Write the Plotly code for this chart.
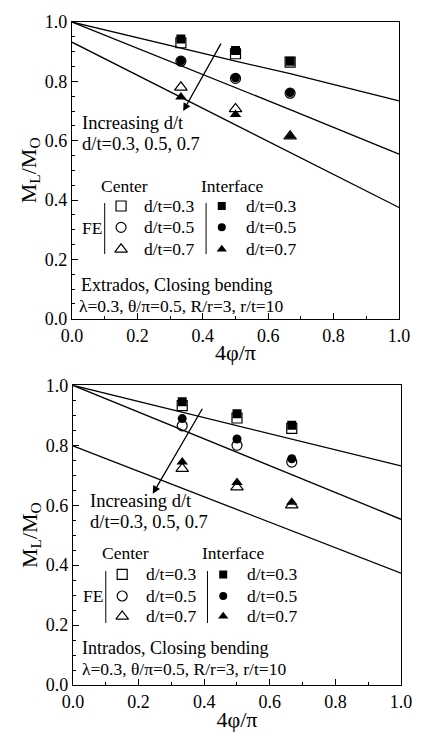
import plotly.graph_objects as go

# ---- data -------------------------------------------------------------
phi = [0.333, 0.5, 0.667]            # 4*phi/pi for the FE cases
theory_x = [0.0, 0.333, 0.5, 0.667, 1.0]

# Extrados, closing bending
ext_theory_03 = [1.0, 0.911, 0.868, 0.826, 0.734]
ext_theory_05 = [1.0, 0.853, 0.778, 0.705, 0.555]
ext_theory_07 = [0.932, 0.746, 0.654, 0.560, 0.375]
ext_center_03 = [0.930, 0.893, 0.865]
ext_iface_03 = [0.943, 0.904, 0.868]
ext_center_05 = [0.868, 0.810, 0.760]
ext_iface_05 = [0.869, 0.812, 0.762]
ext_center_07 = [0.780, 0.707, 0.615]
ext_iface_07 = [0.747, 0.688, 0.615]

# Intrados, closing bending
int_theory_03 = [1.0, 0.910, 0.866, 0.822, 0.731]
int_theory_05 = [1.0, 0.852, 0.776, 0.702, 0.553]
int_theory_07 = [0.798, 0.656, 0.585, 0.514, 0.373]
int_center_03 = [0.932, 0.891, 0.856]
int_iface_03 = [0.945, 0.905, 0.867]
int_center_05 = [0.865, 0.800, 0.744]
int_iface_05 = [0.889, 0.821, 0.755]
int_center_07 = [0.722, 0.660, 0.600]
int_iface_07 = [0.744, 0.676, 0.610]

dt_labels = ["d/t=0.3", "d/t=0.5", "d/t=0.7"]
xticks = [0.0, 0.2, 0.4, 0.6, 0.8, 1.0]
yticks = [0.0, 0.2, 0.4, 0.6, 0.8, 1.0]

FONT = "Liberation Serif"
BLACK = "black"
TXT = dict(family=FONT, size=18.5, color=BLACK)
LEG = dict(family=FONT, size=17.5, color=BLACK)

fig = go.Figure()

open_syms = ["square-open", "circle-open", "triangle-up-open"]
fill_syms = ["square", "circle", "triangle-up"]
sym_sizes = [10, 10, 11]

panels = [
    dict(xa="x", ya="y",
         theory=[ext_theory_03, ext_theory_05, ext_theory_07],
         center=[ext_center_03, ext_center_05, ext_center_07],
         iface=[ext_iface_03, ext_iface_05, ext_iface_07],
         case="Extrados, Closing bending",
         arrow=(0.458, 0.932, 0.34, 0.70),
         inc=(0.025, 0.66, 0.59),
         leg=dict(head=0.448, rows=[0.38, 0.308, 0.234], bar=(0.39, 0.218), fe=0.305),
         case_pos=(0.02, 0.115, 0.016, 0.044)),
    dict(xa="x2", ya="y2",
         theory=[int_theory_03, int_theory_05, int_theory_07],
         center=[int_center_03, int_center_05, int_center_07],
         iface=[int_iface_03, int_iface_05, int_iface_07],
         case="Intrados, Closing bending",
         arrow=(0.397, 0.927, 0.243, 0.638),
         inc=(0.047, 0.614, 0.543),
         leg=dict(head=0.44, rows=[0.369, 0.297, 0.229], bar=(0.38, 0.207), fe=0.297),
         case_pos=(0.022, 0.122, 0.02, 0.052)),
]

annotations = []
shapes = []

for p in panels:
    xa, ya = p["xa"], p["ya"]
    for ys in p["theory"]:
        fig.add_trace(go.Scatter(x=theory_x, y=ys, mode="lines", xaxis=xa, yaxis=ya,
                                 line=dict(color=BLACK, width=1.3), showlegend=False))
    for ys, s, sz in zip(p["center"], open_syms, sym_sizes):
        fig.add_trace(go.Scatter(x=phi, y=ys, mode="markers", xaxis=xa, yaxis=ya,
                                 marker=dict(symbol=s, size=sz, color=BLACK,
                                             line=dict(width=1.2, color=BLACK)),
                                 showlegend=False))
    for ys, s, sz in zip(p["iface"], fill_syms, sym_sizes):
        fig.add_trace(go.Scatter(x=phi, y=ys, mode="markers", xaxis=xa, yaxis=ya,
                                 marker=dict(symbol=s, size=sz - 1, color=BLACK),
                                 showlegend=False))

    # legend keys drawn inside the axes
    lg = p["leg"]
    for row_y, so, sf, sz in zip(lg["rows"], open_syms, fill_syms, sym_sizes):
        fig.add_trace(go.Scatter(x=[0.15], y=[row_y], mode="markers", xaxis=xa, yaxis=ya,
                                 marker=dict(symbol=so, size=sz, color=BLACK,
                                             line=dict(width=1.2, color=BLACK)),
                                 showlegend=False, hoverinfo="skip"))
        fig.add_trace(go.Scatter(x=[0.458], y=[row_y], mode="markers", xaxis=xa, yaxis=ya,
                                 marker=dict(symbol=sf, size=sz - 2, color=BLACK),
                                 showlegend=False, hoverinfo="skip"))
    for lab, row_y in zip(dt_labels, lg["rows"]):
        annotations.append(dict(x=0.215, y=row_y, xref=xa, yref=ya, text=lab, showarrow=False,
                                xanchor="left", yanchor="middle", font=LEG))
        annotations.append(dict(x=0.525, y=row_y, xref=xa, yref=ya, text=lab, showarrow=False,
                                xanchor="left", yanchor="middle", font=LEG))
    annotations.append(dict(x=0.16, y=lg["head"], xref=xa, yref=ya, text="Center", showarrow=False,
                            xanchor="center", yanchor="middle", font=LEG))
    annotations.append(dict(x=0.488, y=lg["head"], xref=xa, yref=ya, text="Interface", showarrow=False,
                            xanchor="center", yanchor="middle", font=LEG))
    annotations.append(dict(x=0.025, y=lg["fe"], xref=xa, yref=ya, text="FE", showarrow=False,
                            xanchor="left", yanchor="middle", font=LEG))
    for bx in (0.1, 0.41):
        shapes.append(dict(type="line", xref=xa, yref=ya, x0=bx, x1=bx,
                           y0=lg["bar"][0], y1=lg["bar"][1], line=dict(color=BLACK, width=1)))

    # trend arrow
    x0, y0, x1, y1 = p["arrow"]
    annotations.append(dict(x=x1, y=y1, ax=x0, ay=y0, xref=xa, yref=ya, axref=xa, ayref=ya,
                            text="", showarrow=True, arrowhead=2, arrowsize=1.2, arrowwidth=1.3,
                            arrowcolor=BLACK))
    ix, iy1, iy2 = p["inc"]
    annotations.append(dict(x=ix, y=iy1, xref=xa, yref=ya, text="Increasing d/t", showarrow=False,
                            xanchor="left", yanchor="middle", font=TXT))
    annotations.append(dict(x=ix, y=iy2, xref=xa, yref=ya, text="d/t=0.3, 0.5, 0.7", showarrow=False,
                            xanchor="left", yanchor="middle", font=TXT))

    cx1, cy1, cx2, cy2 = p["case_pos"]
    annotations.append(dict(x=cx1, y=cy1, xref=xa, yref=ya, text=p["case"], showarrow=False,
                            xanchor="left", yanchor="middle", font=dict(TXT, size=18)))
    annotations.append(dict(x=cx2, y=cy2, xref=xa, yref=ya,
                            text="λ=0.3, θ/π=0.5, R/r=3, r/t=10", showarrow=False,
                            xanchor="left", yanchor="middle", font=dict(TXT, size=17.5)))

axis_common = dict(showline=True, linecolor=BLACK, linewidth=1.3, mirror=True,
                   ticks="inside", ticklen=6, tickwidth=1, tickcolor=BLACK,
                   showgrid=False, zeroline=False, tickformat=".1f",
                   tickfont=dict(family=FONT, size=18, color=BLACK))

x_common = dict(axis_common, range=[0, 1.0], tickvals=xticks,
                minor=dict(ticks="inside", ticklen=3, dtick=0.1, tickcolor=BLACK),
                title=dict(text="4φ/π", font=dict(family=FONT, size=22, color=BLACK), standoff=0))
y_common = dict(axis_common, range=[0, 1.0], tickvals=yticks,
                minor=dict(ticks="inside", ticklen=3, dtick=0.05, tickcolor=BLACK),
                title=dict(text="M<sub>L</sub>/M<sub>O</sub>",
                           font=dict(family=FONT, size=22, color=BLACK), standoff=2))

fig.update_layout(
    width=424, height=739,
    margin=dict(l=72, r=12, t=13, b=49),
    paper_bgcolor="white", plot_bgcolor="white",
    xaxis=dict(x_common, domain=[0.0, 0.994], anchor="y"),
    yaxis=dict(y_common, domain=[0.5524, 1.0], anchor="x"),
    xaxis2=dict(x_common, domain=[0.003, 1.0], anchor="y2"),
    yaxis2=dict(y_common, domain=[0.0, 0.452], anchor="x2"),
    annotations=annotations,
    shapes=shapes,
    showlegend=False,
)

fig.write_html("out.html")
